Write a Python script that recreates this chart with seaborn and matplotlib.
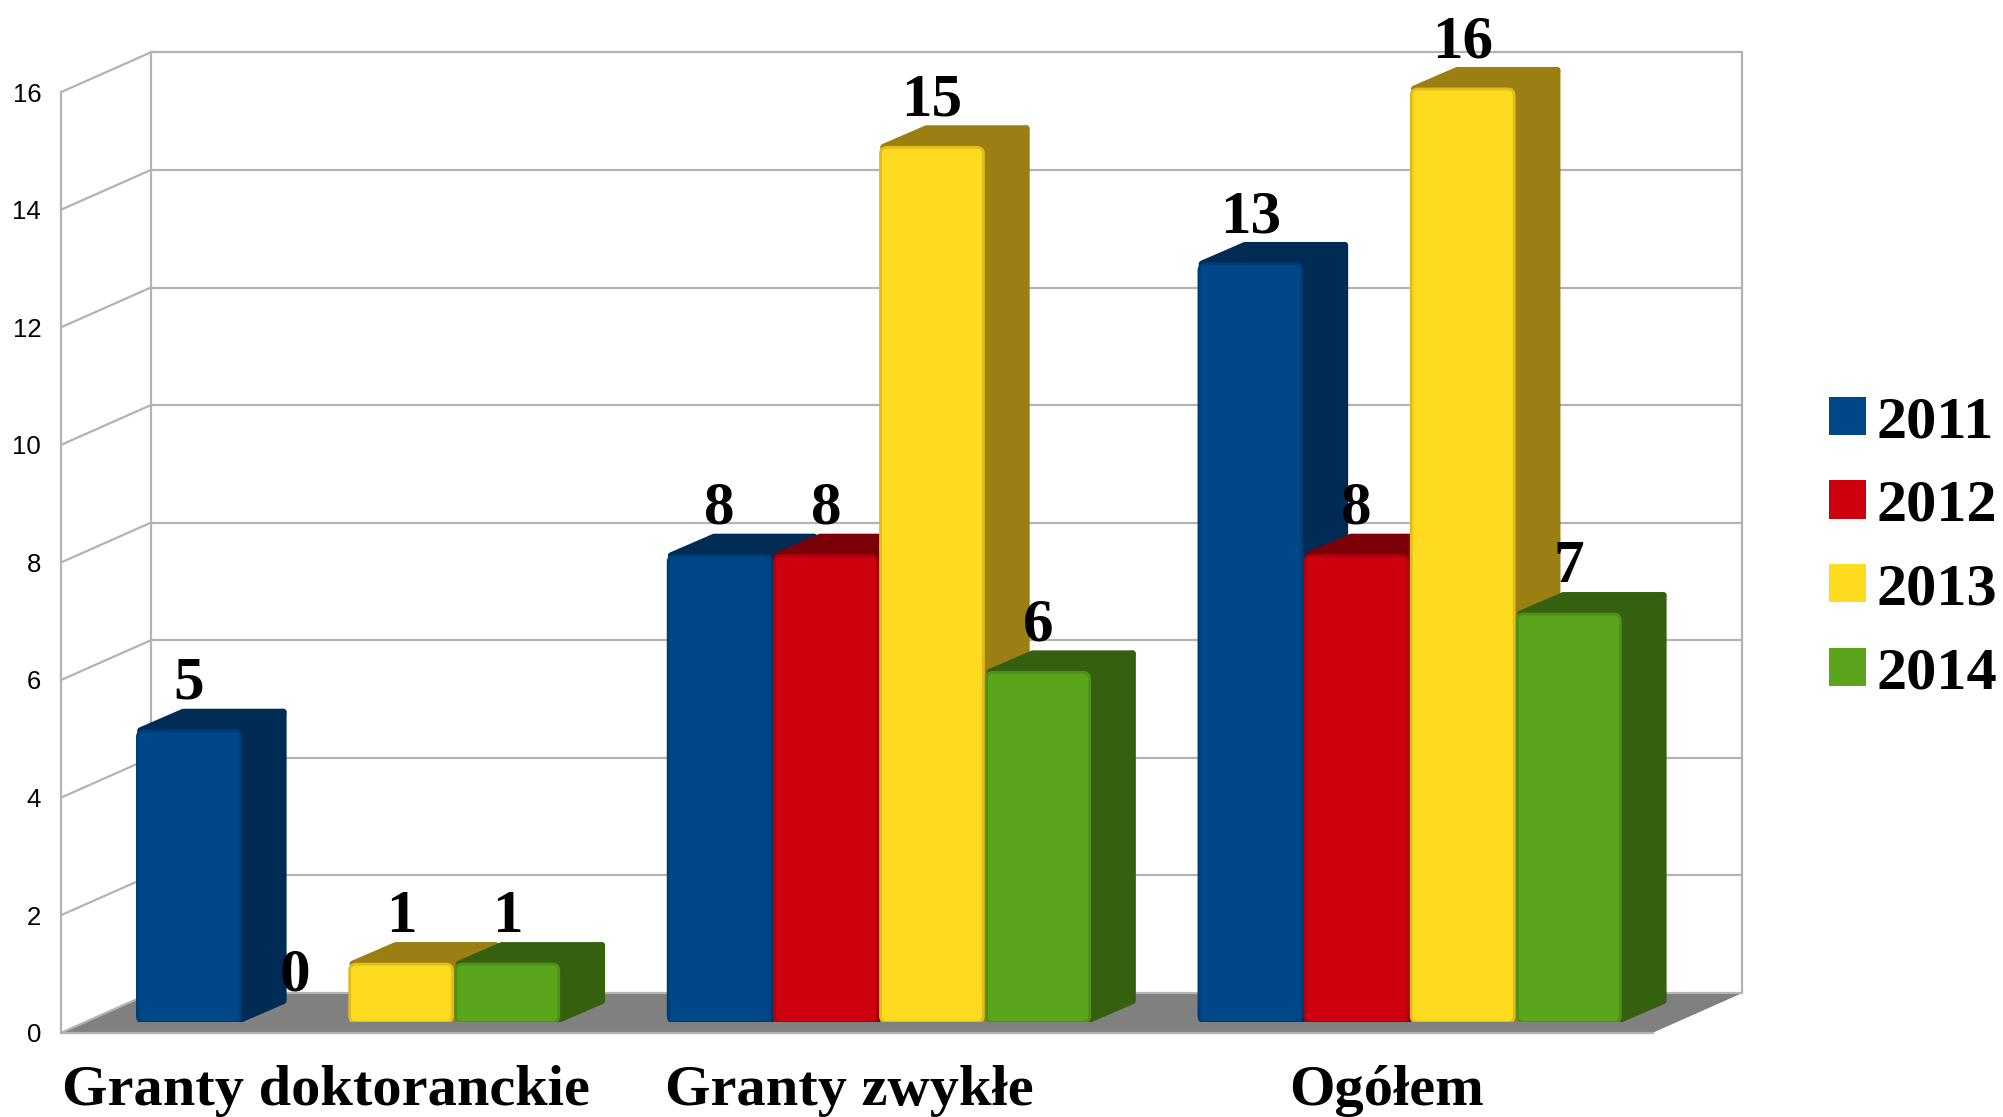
import matplotlib
matplotlib.use('Agg')
import matplotlib.pyplot as plt
import pandas as pd
import seaborn as sns
from matplotlib.patches import FancyBboxPatch, Polygon

categories = ['Granty doktoranckie', 'Granty zwykłe', 'Ogółem']
years = ['2011', '2012', '2013', '2014']
values_2011 = [5, 8, 13]
values_2012 = [0, 8, 8]
values_2013 = [1, 15, 16]
values_2014 = [1, 6, 7]
y_ticks = [0, 2, 4, 6, 8, 10, 12, 14, 16]

front_colors = ['#00478a', '#cc000e', '#ffdb1f', '#5ba51d']
side_colors = ['#002b55', '#7b0008', '#9b7f12', '#356010']
edge_colors = ['#003d76', '#b0000c', '#e0bc1b', '#4f9019']
grey = '#b3b3b3'

# layout is measured on a 1568x874 copy of the picture
W, H = 1568, 874
sns.set_theme(style='white')
plt.rcParams['font.family'] = ['Liberation Serif', 'DejaVu Serif']

fig = plt.figure(figsize=(20.03, 11.17), dpi=100, facecolor='white')

# frame: floor, walls and the value axis
frame = fig.add_axes([48 / W, (H - 808) / H, 1246 / W, 736 / H], zorder=1)
frame.set_xlim(0, 1)
frame.set_ylim(0, 16)
frame.patch.set_visible(False)
depth_x = 70 / 1246
depth_y = 31 / 46
frame.add_patch(Polygon([(0, 0), (depth_x, depth_y), (1 + depth_x, depth_y), (1, 0)],
                        closed=True, facecolor='#808080', edgecolor='none', clip_on=False))
for t in y_ticks:
    frame.plot([0, depth_x], [t, t + depth_y], color=grey, lw=1.6, clip_on=False, zorder=1)
    frame.plot([depth_x, 1 + depth_x], [t + depth_y, t + depth_y], color=grey, lw=1.6,
               clip_on=False, zorder=1)
frame.plot([depth_x, depth_x], [depth_y, 16 + depth_y], color=grey, lw=1.6, clip_on=False)
frame.plot([1 + depth_x, 1 + depth_x], [depth_y, 16 + depth_y], color=grey, lw=1.6, clip_on=False)
for name in ['top', 'right']:
    frame.spines[name].set_visible(False)
for name in ['left', 'bottom']:
    frame.spines[name].set_color(grey)
    frame.spines[name].set_linewidth(1.6)
frame.set_xticks([])
frame.set_yticks(y_ticks)
frame.tick_params(axis='y', length=0, pad=14.5)
for label in frame.get_yticklabels():
    label.set_fontfamily('Liberation Sans')
    label.set_fontsize(18.5)
    label.set_color('black')

# bars: one unit on x is a group, axes runs over the full width of the figure
px_x = 415.5
px_y = 45.65
base_y = 800
ax = fig.add_axes([0, (H - base_y) / H, 1, base_y / H], zorder=2)
df = pd.DataFrame({'kategoria': categories * 4,
                   'rok': [y for y in years for _ in categories],
                   'liczba': values_2011 + values_2012 + values_2013 + values_2014})
sns.barplot(data=df, x='kategoria', y='liczba', hue='rok', hue_order=years, order=categories,
            palette=front_colors, saturation=1, width=0.8, gap=0.03, linewidth=0, ax=ax)
handles, labels = ax.get_legend_handles_labels()
ax.get_legend().remove()

ax.set_xlim(-272.5 / px_x, (W - 272.5) / px_x)
ax.set_ylim(0, base_y / px_y)
ax.patch.set_visible(False)
sns.despine(ax=ax, left=True, bottom=True)
ax.set_xlabel('')
ax.set_ylabel('')
ax.set_yticks([])
ax.set_xticks([-17 / px_x, 1 - 23 / px_x, 2 - 18 / px_x], labels=categories)
ax.tick_params(axis='x', length=0, pad=31)
for label in ax.get_xticklabels():
    label.set_fontsize(42)
    label.set_fontweight('bold')
    label.set_color('black')

# extrude each bar backwards, left to right so later bars cover earlier sides
dx = 36 / px_x
dy = 17 / px_y
inset_x = 2.5 / px_x
inset_y = 2.5 / px_y
all_bars = []
for i, container in enumerate(ax.containers):
    for bar in container:
        all_bars.append((bar.get_x(), i, bar))
all_bars.sort(key=lambda item: item[0])
for n, (x0, i, bar) in enumerate(all_bars):
    h = bar.get_height()
    if h == 0:
        bar.set_visible(False)
        continue
    w = bar.get_width()
    z = 3 + n
    x1 = x0 + w
    far_x = x1 + dx - inset_x
    far_y = h + dy - inset_y
    ax.add_patch(Polygon([(x1, inset_y), (far_x, dy), (far_x, far_y), (x1, h)], closed=True,
                         facecolor=side_colors[i], edgecolor=side_colors[i], lw=5,
                         joinstyle='round', zorder=z))
    ax.add_patch(Polygon([(x0 + inset_x, h), (x0 + dx, far_y), (far_x, far_y), (x1, h)], closed=True,
                         facecolor=side_colors[i], edgecolor=side_colors[i], lw=5,
                         joinstyle='round', zorder=z))
    outline = FancyBboxPatch((x0, 0), w, h, boxstyle='round,pad=0,rounding_size=%f' % (5 / px_x),
                             mutation_aspect=px_x / px_y, facecolor='none',
                             edgecolor=edge_colors[i], lw=2, zorder=z + 0.2)
    ax.add_patch(outline)
    bar.set_zorder(z + 0.1)
    bar.set_clip_path(outline)

for container in ax.containers:
    ax.bar_label(container, padding=13.5, fontsize=44, fontweight='bold', color='black', zorder=50)

legend = ax.legend(handles, labels, loc='upper left', bbox_to_anchor=(1432 / W, (H - 310) / H),
                   bbox_transform=fig.transFigure, frameon=False, fontsize=43.5, handlelength=0.6,
                   handleheight=0.6, handletextpad=0.19, labelspacing=0.49, borderpad=0, borderaxespad=0)
for text in legend.get_texts():
    text.set_fontweight('bold')
    text.set_color('black')

fig.savefig('out.png', dpi=100, facecolor='white')
